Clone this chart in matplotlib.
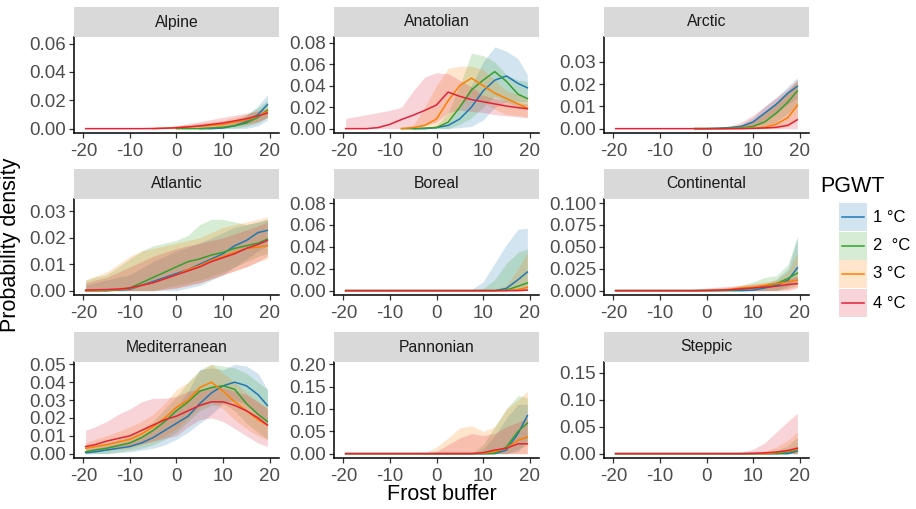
import numpy as np
import matplotlib.pyplot as plt

plt.rcParams['font.family'] = ['Liberation Sans', 'DejaVu Sans']

N = None  # no value drawn there

# frost buffer grid
X = [-19.5, -17.5, -15, -12.5, -10, -7.5, -5, -2.5, 0, 2.5, 5, 7.5, 10, 12.5, 15, 17.5, 19.5]

regions = ['Alpine', 'Anatolian', 'Arctic', 'Atlantic', 'Boreal', 'Continental',
           'Mediterranean', 'Pannonian', 'Steppic']
levels = ['1 °C', '2  °C', '3 °C', '4 °C']
colors = ['#1F78B4', '#33A02C', '#FF7F00', '#E0243A']

# each: [1 °C, 2 °C, 3 °C, 4 °C]
alpine_mid = [
    [N]*10 + [0, 0, 0.0005, 0.002, 0.005, 0.010, 0.017],
    [N]*8 + [0, 0, 0, 0.0005, 0.001, 0.002, 0.004, 0.008, 0.013],
    [N]*6 + [0, 0.0003, 0.0008, 0.0012, 0.0016, 0.0022, 0.003, 0.0045, 0.006, 0.009, 0.012],
    [0, 0, 0, 0, 0, 0, 0.0001, 0.0003, 0.0006, 0.0012, 0.002, 0.003, 0.004, 0.0055, 0.007, 0.009, 0.011],
]
alpine_lo = [
    [N]*10 + [0, 0, 0, 0, 0.0002, 0.002, 0.006],
    [N]*8 + [0, 0, 0, 0, 0, 0.0005, 0.0015, 0.004, 0.008],
    [N]*6 + [0, 0, 0, 0, 0, 0.0005, 0.001, 0.002, 0.003, 0.005, 0.008],
    [0, 0, 0, 0, 0, 0, 0, 0, 0, 0, 0.0003, 0.001, 0.0015, 0.002, 0.003, 0.005, 0.008],
]
alpine_hi = [
    [N]*10 + [0, 0.0003, 0.0015, 0.004, 0.009, 0.016, 0.024],
    [N]*8 + [0, 0.0003, 0.0008, 0.0015, 0.003, 0.006, 0.010, 0.015, 0.020],
    [N]*6 + [0, 0.0008, 0.0018, 0.003, 0.004, 0.005, 0.006, 0.008, 0.010, 0.013, 0.016],
    [0, 0, 0, 0, 0, 0, 0.0003, 0.001, 0.002, 0.0035, 0.005, 0.0065, 0.008, 0.0095, 0.011, 0.0125, 0.014],
]

anatolian_mid = [
    [N]*6 + [0, 0, 0.001, 0.003, 0.009, 0.020, 0.035, 0.045, 0.049, 0.042, 0.038],
    [N]*5 + [0, 0, 0.0005, 0.001, 0.006, 0.020, 0.036, 0.045, 0.053, 0.044, 0.032, 0.028],
    [N]*5 + [0, 0.001, 0.003, 0.009, 0.026, 0.040, 0.047, 0.040, 0.033, 0.028, 0.023, 0.019],
    [0, 0, 0, 0.001, 0.004, 0.0085, 0.0125, 0.017, 0.022, 0.034, 0.030, 0.027, 0.025, 0.023, 0.021, 0.0195, 0.0185],
]
anatolian_lo = [
    [N]*6 + [0, 0, 0, 0, 0.001, 0.002, 0.008, 0.020, 0.025, 0.025, 0.025],
    [N]*5 + [0, 0, 0, 0, 0, 0.004, 0.010, 0.020, 0.030, 0.025, 0.020, 0.018],
    [N]*5 + [0, 0, 0, 0.001, 0.005, 0.020, 0.030, 0.025, 0.018, 0.013, 0.012, 0.011],
    [0, 0, 0, 0, 0, 0, 0.001, 0.003, 0.006, 0.015, 0.017, 0.016, 0.015, 0.013, 0.012, 0.011, 0.010],
]
anatolian_hi = [
    [N]*6 + [0, 0.001, 0.002, 0.005, 0.020, 0.040, 0.062, 0.076, 0.072, 0.065, 0.050],
    [N]*5 + [0, 0.0005, 0.001, 0.003, 0.015, 0.040, 0.070, 0.068, 0.062, 0.050, 0.045, 0.044],
    [N]*5 + [0, 0.003, 0.020, 0.040, 0.056, 0.058, 0.058, 0.055, 0.045, 0.035, 0.032, 0.029],
    [0.0095, 0.011, 0.013, 0.015, 0.017, 0.020, 0.035, 0.048, 0.052, 0.051, 0.045, 0.039, 0.031, 0.028, 0.026, 0.024, 0.023],
]

arctic_mid = [
    [N]*7 + [0, 0, 0.0002, 0.0005, 0.001, 0.003, 0.007, 0.011, 0.016, 0.019],
    [N]*7 + [0, 0, 0, 0.0002, 0.0004, 0.001, 0.003, 0.007, 0.012, 0.017],
    [N]*7 + [0, 0, 0, 0, 0.0001, 0.0002, 0.0006, 0.002, 0.005, 0.0105],
    [0]*12 + [0.0001, 0.0003, 0.0006, 0.0015, 0.004],
]
arctic_lo = [
    [N]*7 + [0, 0, 0, 0, 0.0002, 0.001, 0.004, 0.007, 0.011, 0.014],
    [N]*7 + [0, 0, 0, 0, 0, 0.0002, 0.001, 0.003, 0.007, 0.010],
    [N]*7 + [0, 0, 0, 0, 0, 0, 0, 0, 0.001, 0.004],
    [0]*17,
]
arctic_hi = [
    [N]*7 + [0, 0, 0.0003, 0.0008, 0.002, 0.005, 0.010, 0.014, 0.019, 0.023],
    [N]*7 + [0, 0, 0.0002, 0.0006, 0.0015, 0.003, 0.007, 0.012, 0.017, 0.021],
    [N]*7 + [0, 0.0002, 0.0005, 0.001, 0.0018, 0.004, 0.008, 0.012, 0.017, 0.022],
    [0]*8 + [0.0002, 0.0005, 0.001, 0.003, 0.006, 0.010, 0.014, 0.018, 0.022],
]

atlantic_mid = [
    [0, 0, 0, 0.0002, 0.0005, 0.002, 0.0035, 0.005, 0.0065, 0.008, 0.010, 0.012, 0.014, 0.017, 0.019, 0.022, 0.0228],
    [0, 0, 0, 0.0003, 0.001, 0.003, 0.005, 0.007, 0.009, 0.011, 0.012, 0.0135, 0.0145, 0.016, 0.017, 0.018, 0.0195],
    [0, 0, 0.0002, 0.0004, 0.0008, 0.002, 0.003, 0.0045, 0.006, 0.008, 0.0095, 0.0115, 0.013, 0.0145, 0.016, 0.0165, 0.017],
    [0.0002, 0.0003, 0.0004, 0.0006, 0.001, 0.002, 0.003, 0.0045, 0.006, 0.0075, 0.009, 0.011, 0.0125, 0.014, 0.016, 0.0175, 0.019],
]
atlantic_lo = [
    [0, 0, 0, 0, 0, 0, 0, 0, 0, 0.001, 0.002, 0.004, 0.006, 0.009, 0.012, 0.015, 0.017],
    [0, 0, 0, 0, 0, 0, 0, 0.001, 0.002, 0.003, 0.004, 0.0055, 0.007, 0.009, 0.011, 0.013, 0.014],
    [0, 0, 0, 0, 0, 0, 0, 0.0005, 0.001, 0.002, 0.003, 0.0045, 0.006, 0.0075, 0.009, 0.011, 0.012],
    [0, 0, 0, 0, 0, 0, 0, 0.0005, 0.001, 0.002, 0.003, 0.0045, 0.006, 0.0075, 0.009, 0.011, 0.013],
]
atlantic_hi = [
    [0.002, 0.003, 0.004, 0.005, 0.006, 0.0085, 0.011, 0.013, 0.015, 0.0165, 0.018, 0.020, 0.022, 0.024, 0.025, 0.026, 0.027],
    [0.004, 0.005, 0.006, 0.009, 0.012, 0.015, 0.017, 0.018, 0.019, 0.021, 0.025, 0.027, 0.027, 0.026, 0.025, 0.026, 0.027],
    [0.004, 0.0055, 0.007, 0.010, 0.013, 0.015, 0.016, 0.017, 0.018, 0.019, 0.020, 0.022, 0.024, 0.025, 0.026, 0.027, 0.028],
    [0.003, 0.004, 0.005, 0.007, 0.009, 0.011, 0.013, 0.0145, 0.016, 0.017, 0.018, 0.019, 0.020, 0.0215, 0.023, 0.0245, 0.026],
]

boreal_mid = [
    [0]*14 + [0.002, 0.010, 0.017],
    [0]*14 + [0.0005, 0.004, 0.007],
    [0]*15 + [0.001, 0.003],
    [0]*16 + [0.0005],
]
boreal_lo = [
    [0]*15 + [0.002, 0.005],
    [0]*17,
    [0]*17,
    [0]*17,
]
boreal_hi = [
    [0]*11 + [0.001, 0.008, 0.025, 0.042, 0.056, 0.057],
    [0]*12 + [0.002, 0.010, 0.025, 0.035, 0.038],
    [0]*13 + [0.001, 0.005, 0.020, 0.035],
    [0]*14 + [0.0005, 0.002, 0.005],
]

continental_mid = [
    [0]*12 + [0.0005, 0.003, 0.006, 0.012, 0.026],
    [0]*10 + [0.0005, 0.0015, 0.003, 0.005, 0.008, 0.014, 0.020],
    [0]*9 + [0.0005, 0.0015, 0.003, 0.004, 0.006, 0.008, 0.010, 0.012],
    [0]*8 + [0.0003, 0.0006, 0.001, 0.002, 0.003, 0.004, 0.005, 0.007, 0.008],
]
continental_lo = [
    [0]*14 + [0.001, 0.005, 0.010],
    [0]*15 + [0.003, 0.007],
    [0]*15 + [0.002, 0.004],
    [0]*16 + [0.003],
]
continental_hi = [
    [0]*11 + [0.001, 0.003, 0.007, 0.013, 0.025, 0.060],
    [0]*9 + [0.001, 0.003, 0.006, 0.010, 0.015, 0.017, 0.030, 0.062],
    [0]*8 + [0.002, 0.003, 0.004, 0.006, 0.008, 0.010, 0.012, 0.022, 0.043],
    [0]*7 + [0.002, 0.003, 0.004, 0.005, 0.006, 0.007, 0.0085, 0.010, 0.013, 0.017],
]

mediterranean_mid = [
    [0.0005, 0.001, 0.002, 0.003, 0.004, 0.006, 0.009, 0.013, 0.017, 0.021, 0.028, 0.034, 0.038, 0.040, 0.038, 0.033, 0.027],
    [0.001, 0.002, 0.003, 0.0045, 0.006, 0.009, 0.013, 0.018, 0.024, 0.029, 0.035, 0.037, 0.038, 0.036, 0.028, 0.022, 0.018],
    [0.003, 0.004, 0.005, 0.0065, 0.008, 0.011, 0.015, 0.020, 0.026, 0.030, 0.037, 0.040, 0.035, 0.029, 0.024, 0.019, 0.016],
    [0.004, 0.005, 0.007, 0.0085, 0.010, 0.013, 0.016, 0.019, 0.021, 0.024, 0.027, 0.029, 0.029, 0.027, 0.024, 0.020, 0.016],
]
mediterranean_lo = [
    [0, 0, 0, 0.0005, 0.001, 0.002, 0.003, 0.005, 0.008, 0.012, 0.017, 0.022, 0.028, 0.030, 0.028, 0.022, 0.017],
    [0, 0, 0, 0.001, 0.002, 0.003, 0.005, 0.008, 0.012, 0.018, 0.024, 0.027, 0.028, 0.024, 0.017, 0.012, 0.008],
    [0.001, 0.0015, 0.002, 0.0025, 0.003, 0.005, 0.007, 0.010, 0.014, 0.020, 0.026, 0.029, 0.025, 0.019, 0.014, 0.010, 0.008],
    [0, 0.001, 0.002, 0.003, 0.004, 0.0055, 0.007, 0.0085, 0.010, 0.015, 0.019, 0.020, 0.018, 0.014, 0.010, 0.006, 0.004],
]
mediterranean_hi = [
    [0.002, 0.003, 0.004, 0.0055, 0.007, 0.010, 0.014, 0.020, 0.026, 0.035, 0.047, 0.048, 0.047, 0.050, 0.049, 0.045, 0.036],
    [0.003, 0.0045, 0.006, 0.008, 0.010, 0.014, 0.018, 0.025, 0.032, 0.040, 0.047, 0.050, 0.049, 0.048, 0.045, 0.040, 0.036],
    [0.006, 0.008, 0.010, 0.0125, 0.015, 0.018, 0.022, 0.028, 0.036, 0.040, 0.046, 0.050, 0.045, 0.040, 0.034, 0.029, 0.026],
    [0.013, 0.015, 0.018, 0.022, 0.025, 0.029, 0.031, 0.031, 0.032, 0.035, 0.036, 0.037, 0.037, 0.035, 0.033, 0.029, 0.025],
]

pannonian_mid = [
    [0]*14 + [0.008, 0.045, 0.085],
    [0]*13 + [0.001, 0.015, 0.050, 0.068],
    [0]*12 + [0.001, 0.005, 0.012, 0.030, 0.037],
    [0]*12 + [0.002, 0.008, 0.012, 0.022, 0.022],
]
pannonian_lo = [
    [0]*15 + [0.005, 0.030],
    [0]*15 + [0.010, 0.020],
    [0]*17,
    [0]*17,
]
pannonian_hi = [
    [0]*12 + [0.010, 0.040, 0.080, 0.110, 0.110],
    [0]*12 + [0.020, 0.060, 0.100, 0.130, 0.125],
    [0]*7 + [0.001, 0.015, 0.035, 0.058, 0.062, 0.050, 0.060, 0.100, 0.120, 0.140],
    [0]*8 + [0.005, 0.020, 0.035, 0.045, 0.040, 0.045, 0.060, 0.070, 0.080],
]

steppic_mid = [
    [0]*16 + [0.005],
    [0]*15 + [0.003, 0.007],
    [0]*14 + [0.002, 0.005, 0.008],
    [0]*12 + [0.0005, 0.0015, 0.003, 0.006, 0.010],
]
steppic_lo = [[0]*17, [0]*17, [0]*17, [0]*17]
steppic_hi = [
    [0]*15 + [0.005, 0.015],
    [0]*14 + [0.005, 0.015, 0.030],
    [0]*13 + [0.005, 0.012, 0.025, 0.040],
    [0]*10 + [0.001, 0.003, 0.008, 0.020, 0.040, 0.060, 0.075],
]

mids = [alpine_mid, anatolian_mid, arctic_mid, atlantic_mid, boreal_mid,
        continental_mid, mediterranean_mid, pannonian_mid, steppic_mid]
los = [alpine_lo, anatolian_lo, arctic_lo, atlantic_lo, boreal_lo,
       continental_lo, mediterranean_lo, pannonian_lo, steppic_lo]
his = [alpine_hi, anatolian_hi, arctic_hi, atlantic_hi, boreal_hi,
       continental_hi, mediterranean_hi, pannonian_hi, steppic_hi]

# free y scales (upper limit of each panel, last tick, tick step, decimals)
ytop = [0.0647, 0.0852, 0.0412, 0.0347, 0.0837, 0.1047, 0.0513, 0.205, 0.17]
ylast = [0.06, 0.08, 0.03, 0.03, 0.08, 0.10, 0.05, 0.20, 0.15]
ystep = [0.02, 0.02, 0.01, 0.01, 0.02, 0.025, 0.01, 0.05, 0.05]
ydec = [2, 2, 2, 2, 2, 3, 2, 2, 2]
xticks = [-20, -10, 0, 10, 20]

W, H = 916, 509
fig = plt.figure(figsize=(W / 100, H / 100), dpi=100)


def box(l, t, r, b):
    return [l / W, 1 - b / H, (r - l) / W, (b - t) / H]


col_left = [74, 334, 604]
row_top = [37, 199, 362]
pw, ph, sh = 205, 96, 30

for i, name in enumerate(regions):
    l = col_left[i % 3]
    t = row_top[i // 3]
    ax = fig.add_axes(box(l, t, l + pw, t + ph))
    for k in range(4):
        lo = np.array(los[i][k], dtype=float)
        hi = np.array(his[i][k], dtype=float)
        ax.fill_between(X, lo, hi, color=colors[k], alpha=0.2, lw=0)
    for k in range(4):
        ax.plot(X, np.array(mids[i][k], dtype=float), color=colors[k], lw=1.1)
    ax.set_xlim(-22, 22)
    ax.set_ylim(-ytop[i] / 21, ytop[i])
    yt = np.arange(0, ylast[i] + ystep[i] / 2, ystep[i])
    ax.set_yticks(yt)
    ax.set_yticklabels([f'{v:.{ydec[i]}f}' for v in yt])
    ax.set_xticks(xticks)
    ax.set_xticklabels([str(v) for v in xticks])
    for s in ['top', 'right']:
        ax.spines[s].set_visible(False)
    for s in ['left', 'bottom']:
        ax.spines[s].set_linewidth(1.1)
        ax.spines[s].set_color('black')
    ax.tick_params(length=3.5, width=0.9, color='#333333', labelsize=13.5,
                   labelcolor='#4D4D4D', pad=2)
    ax.tick_params(axis='x', pad=4)
    ax.patch.set_alpha(0)

    sax = fig.add_axes(box(l, t - sh, l + pw, t))
    sax.set_facecolor('#D9D9D9')
    sax.set_xticks([])
    sax.set_yticks([])
    for s in sax.spines.values():
        s.set_visible(False)
    sax.text(0.5, 0.5, name, ha='center', va='center', fontsize=11.3,
             color='#1A1A1A', transform=sax.transAxes)

fig.text(11 / W, 1 - 245 / H, 'Probability density', rotation=90,
         ha='center', va='center', fontsize=15.5)
fig.text(441.5 / W, 1 - 495 / H, 'Frost buffer', ha='center', va='center',
         fontsize=15.5)

# legend
fig.text(820 / W, 1 - 186 / H, 'PGWT', ha='left', va='center', fontsize=15.5)
key_top = [203, 232, 260, 289]
for k in range(4):
    kax = fig.add_axes(box(839, key_top[k], 867, key_top[k] + 28))
    kax.set_xlim(0, 1)
    kax.set_ylim(0, 1)
    kax.fill_between([0, 1], [0, 0], [1, 1], color=colors[k], alpha=0.2, lw=0)
    kax.plot([0.1, 0.9], [0.5, 0.5], color=colors[k], lw=1.1)
    kax.axis('off')
    fig.text(873 / W, 1 - (key_top[k] + 14) / H, levels[k], ha='left',
             va='center', fontsize=12)

fig.savefig('out.png', dpi=100)
